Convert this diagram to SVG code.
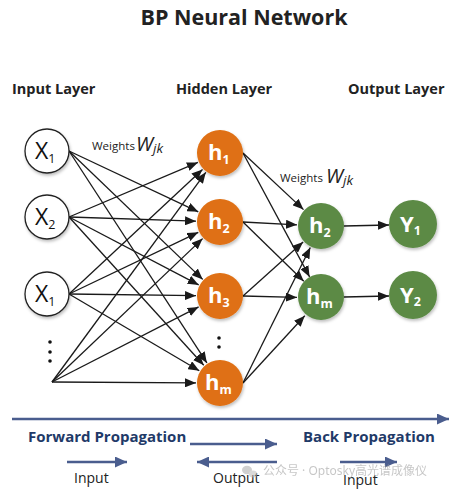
<svg xmlns="http://www.w3.org/2000/svg" width="458" height="491" viewBox="0 0 458 491">
<defs>
<marker id="ah" markerUnits="userSpaceOnUse" markerWidth="11" markerHeight="9" refX="11" refY="4.5" orient="auto"><path d="M0,0 L11,4.5 L0,9 z" fill="#1a1a1a"/></marker>
<marker id="bh" markerUnits="userSpaceOnUse" markerWidth="12" markerHeight="11" refX="12" refY="5.5" orient="auto"><path d="M0,0 L12,5.5 L0,11 z" fill="#4a5d8e"/></marker>
<filter id="sh" x="-30%" y="-30%" width="160%" height="160%"><feDropShadow dx="1" dy="2" stdDeviation="1.5" flood-color="#000" flood-opacity="0.25"/></filter>
<style>
.t{font-family:"Open Sans","Noto Sans","Liberation Sans",sans-serif}
.title{font-size:21.5px;font-weight:bold;fill:#222}
.layer{font-size:14.5px;font-weight:bold;fill:#222}
.in{fill:#fff;stroke:#222;stroke-width:1.3}
.hid{fill:#df6f12}
.grn{fill:#5b8a45}
.c{stroke:#1a1a1a;stroke-width:1.3;fill:none;marker-end:url(#ah)}
.nx{font-size:23px;fill:#111}
.nh{font-size:22px;fill:#fff;font-weight:bold}
.sub{font-size:12.5px}
.w{font-size:11.5px;fill:#222}
.wi{font-size:20px;font-style:italic;fill:#222}
.bl{stroke:#4a5d8e;stroke-width:2.5;fill:none;marker-end:url(#bh)}
.prop{font-size:15px;font-weight:bold;fill:#1f3a68}
.lab{font-size:14px;fill:#222}
</style>
</defs>
<rect width="458" height="491" fill="#fff"/>
<text class="t title" x="244" y="25" text-anchor="middle">BP Neural Network</text>
<text class="t layer" x="12" y="94">Input Layer</text>
<text class="t layer" x="176" y="94">Hidden Layer</text>
<text class="t layer" x="348" y="94">Output Layer</text>

<g id="connectors">
<line class="c" x1="69" y1="151" x2="198.3" y2="211.8"/>
<line class="c" x1="69" y1="151" x2="202.7" y2="279.4"/>
<line class="c" x1="69" y1="151" x2="206.9" y2="362.9"/>
<line class="c" x1="69" y1="217" x2="197.9" y2="162.4"/>
<line class="c" x1="69" y1="217" x2="196" y2="221.2"/>
<line class="c" x1="69" y1="217" x2="198.7" y2="284.9"/>
<line class="c" x1="69" y1="217" x2="203.8" y2="365.2"/>
<line class="c" x1="69" y1="294" x2="202.5" y2="169.4"/>
<line class="c" x1="69" y1="294" x2="198.3" y2="232.3"/>
<line class="c" x1="69" y1="294" x2="196" y2="295.7"/>
<line class="c" x1="69" y1="294" x2="199.3" y2="370.8"/>
<line class="c" x1="52" y1="382" x2="205.8" y2="172.3"/>
<line class="c" x1="52" y1="382" x2="202.6" y2="238.6"/>
<line class="c" x1="52" y1="382" x2="198.6" y2="306.9"/>
<line class="c" x1="52" y1="382" x2="196" y2="382.9"/>
<line class="c" x1="243" y1="153" x2="303.5" y2="209.6"/>
<line class="c" x1="243" y1="153" x2="309.6" y2="276.9"/>
<line class="c" x1="243" y1="222" x2="297" y2="224.8"/>
<line class="c" x1="243" y1="222" x2="303.8" y2="281.2"/>
<line class="c" x1="243" y1="296" x2="303.1" y2="242"/>
<line class="c" x1="243" y1="296" x2="297" y2="297.4"/>
<line class="c" x1="243" y1="383" x2="310.3" y2="247.5"/>
<line class="c" x1="243" y1="383" x2="304.8" y2="315.7"/>
<line class="c" x1="344" y1="226" x2="389" y2="225"/>
<line class="c" x1="344" y1="297" x2="389" y2="296"/>
</g>

<g id="x1"><circle class="in" cx="47" cy="151" r="22" filter="url(#sh)"/><text class="t nx" x="35" y="159">X<tspan class="sub" dy="4">1</tspan></text></g>
<g id="x2"><circle class="in" cx="47" cy="217" r="22" filter="url(#sh)"/><text class="t nx" x="35" y="225">X<tspan class="sub" dy="4">2</tspan></text></g>
<g id="x3"><circle class="in" cx="47" cy="294" r="22" filter="url(#sh)"/><text class="t nx" x="35" y="302">X<tspan class="sub" dy="4">1</tspan></text></g>
<g id="xdots" fill="#111"><circle cx="50" cy="342" r="1.8"/><circle cx="50" cy="352" r="1.8"/><circle cx="50" cy="361" r="1.8"/></g>

<g id="h1"><circle class="hid" cx="220" cy="153" r="23" filter="url(#sh)"/><text class="t nh" x="208" y="160">h<tspan class="sub" dy="4">1</tspan></text></g>
<g id="h2"><circle class="hid" cx="220" cy="222" r="23" filter="url(#sh)"/><text class="t nh" x="208" y="229">h<tspan class="sub" dy="4">2</tspan></text></g>
<g id="h3"><circle class="hid" cx="220" cy="296" r="23" filter="url(#sh)"/><text class="t nh" x="208" y="303">h<tspan class="sub" dy="4">3</tspan></text></g>
<g id="hdots" fill="#111"><circle cx="219" cy="338" r="1.8"/><circle cx="219" cy="347" r="1.8"/></g>
<g id="hm"><circle class="hid" cx="220" cy="383" r="23" filter="url(#sh)"/><text class="t nh" x="205" y="390">h<tspan class="sub" dy="4">m</tspan></text></g>

<g id="g2"><circle class="grn" cx="321" cy="226" r="23" filter="url(#sh)"/><text class="t nh" x="309" y="233">h<tspan class="sub" dy="4">2</tspan></text></g>
<g id="gm"><circle class="grn" cx="321" cy="297" r="23" filter="url(#sh)"/><text class="t nh" x="306" y="304">h<tspan class="sub" dy="4">m</tspan></text></g>
<g id="y1"><circle class="grn" cx="413" cy="224" r="24" filter="url(#sh)"/><text class="t nh" x="400" y="232">Y<tspan class="sub" dy="3">1</tspan></text></g>
<g id="y2"><circle class="grn" cx="413" cy="295" r="24" filter="url(#sh)"/><text class="t nh" x="400" y="303">Y<tspan class="sub" dy="3">2</tspan></text></g>

<g id="w1"><text class="t w" x="92" y="150">Weights</text><text class="t wi" x="136" y="151">W<tspan font-size="13.5px" dy="2">jk</tspan></text></g>
<g id="w2"><text class="t w" x="280" y="182">Weights</text><text class="t wi" x="326" y="183">W<tspan font-size="13.5px" dy="2">jk</tspan></text></g>

<g id="bottom">
<line class="bl" x1="12" y1="419" x2="449" y2="419"/>
<text class="t prop" x="28" y="442">Forward Propagation</text>
<text class="t prop" x="303" y="442">Back Propagation</text>
<line class="bl" x1="190" y1="444" x2="277" y2="444"/>
<line class="bl" x1="67" y1="462" x2="127" y2="462"/>
<line class="bl" x1="277" y1="462" x2="197" y2="462"/>
<line class="bl" x1="340" y1="462" x2="397" y2="462"/>
<text class="t lab" x="74" y="483">Input</text>
<text class="t lab" x="213" y="483">Output</text>
<text class="t lab" x="343" y="485">Input</text>
</g>
<g id="watermark" opacity="0.55">
<ellipse cx="247" cy="470" rx="5" ry="4.2" fill="#aaa"/><ellipse cx="253" cy="474" rx="4.2" ry="3.6" fill="#bbb"/>
<text x="263" y="475" font-size="12px" fill="#999" font-family="'Noto Sans','Noto Sans CJK SC',sans-serif">公众号 · Optosky<tspan font-family="'Noto Sans CJK SC',sans-serif">高光谱成像仪</tspan></text>
</g>
</svg>
